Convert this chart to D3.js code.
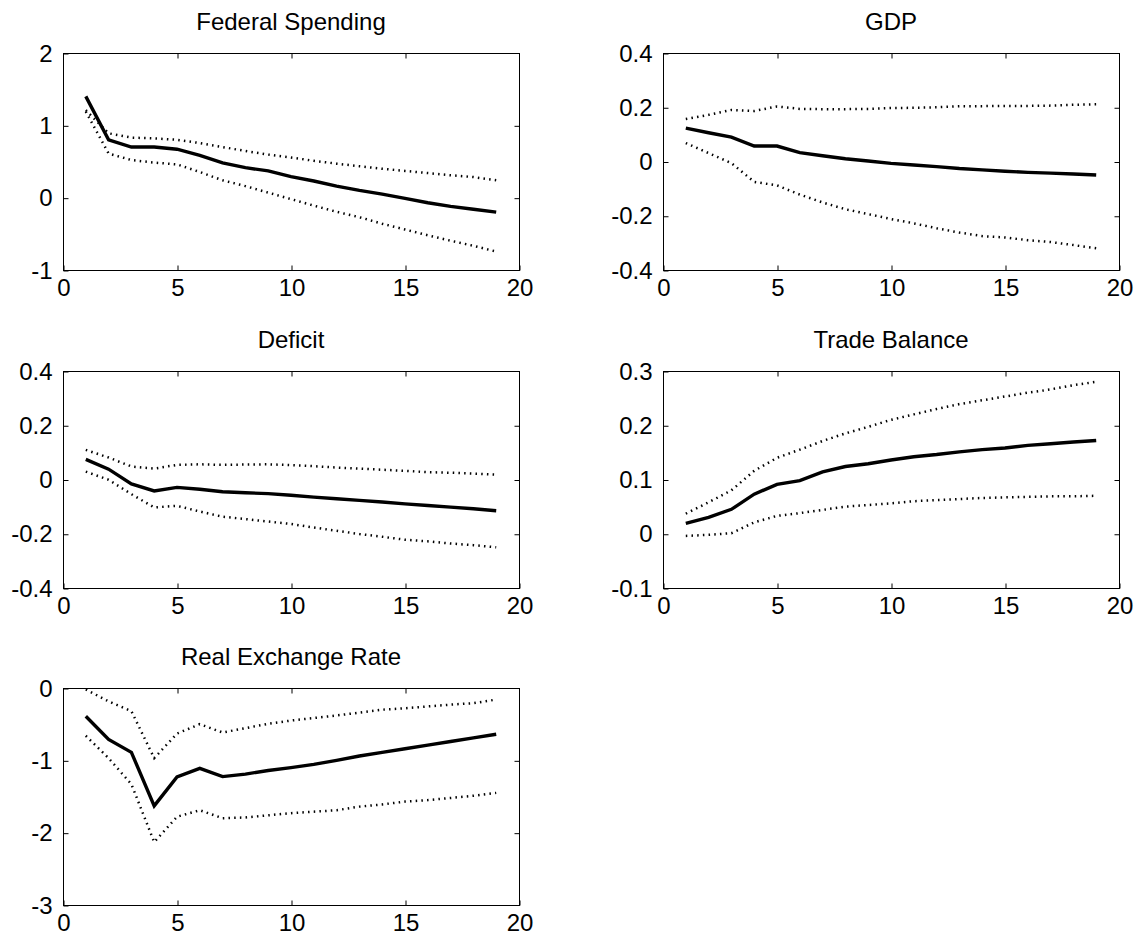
<!DOCTYPE html>
<html>
<head>
<meta charset="utf-8">
<script src="https://cdn.jsdelivr.net/npm/d3@7"></script>
<style>
  html, body { margin: 0; padding: 0; background: #fff; }
  svg { display: block; }
  text { font-family: "Liberation Sans", Arial, Helvetica, sans-serif; fill: #000; }
</style>
</head>
<body>
<svg id="chart" width="1138" height="939"></svg>
<script>
// ---------- data ----------
const periods = [1,2,3,4,5,6,7,8,9,10,11,12,13,14,15,16,17,18,19];

const titles = ["Federal Spending", "GDP", "Deficit", "Trade Balance", "Real Exchange Rate"];

const xTicks = [0, 5, 10, 15, 20];
const xTickLabels = ["0", "5", "10", "15", "20"];

// Federal Spending
const fedMean  = [1.40,0.80,0.70,0.70,0.67,0.585,0.48,0.415,0.37,0.29,0.23,0.16,0.10,0.05,-0.01,-0.07,-0.12,-0.16,-0.20];
const fedUpper = [1.21,0.89,0.83,0.82,0.80,0.755,0.70,0.645,0.595,0.555,0.51,0.47,0.435,0.40,0.37,0.34,0.31,0.285,0.24];
const fedLower = [1.19,0.61,0.52,0.485,0.46,0.355,0.24,0.16,0.07,-0.02,-0.11,-0.195,-0.27,-0.36,-0.44,-0.52,-0.595,-0.665,-0.745];
const fedYTicks = [-1, 0, 1, 2];
const fedYLabels = ["-1", "0", "1", "2"];

// GDP
const gdpMean  = [0.123,0.106,0.09,0.057,0.057,0.0325,0.021,0.010,0.002,-0.007,-0.013,-0.019,-0.026,-0.031,-0.036,-0.040,-0.043,-0.046,-0.05];
const gdpUpper = [0.157,0.172,0.19,0.186,0.203,0.194,0.193,0.193,0.194,0.197,0.198,0.20,0.204,0.204,0.205,0.205,0.206,0.209,0.211];
const gdpLower = [0.068,0.031,-0.006,-0.075,-0.088,-0.122,-0.151,-0.176,-0.194,-0.212,-0.228,-0.246,-0.262,-0.275,-0.28,-0.29,-0.297,-0.308,-0.32];
const gdpYTicks = [-0.4, -0.2, 0, 0.2, 0.4];
const gdpYLabels = ["-0.4", "-0.2", "0", "0.2", "0.4"];

// Deficit
const defMean  = [0.074,0.038,-0.016,-0.042,-0.029,-0.036,-0.045,-0.049,-0.052,-0.058,-0.065,-0.071,-0.077,-0.083,-0.09,-0.096,-0.102,-0.108,-0.115];
const defUpper = [0.109,0.081,0.048,0.04,0.054,0.056,0.054,0.055,0.056,0.053,0.049,0.044,0.04,0.036,0.032,0.027,0.025,0.022,0.018];
const defLower = [0.029,-0.001,-0.054,-0.103,-0.097,-0.118,-0.137,-0.146,-0.155,-0.164,-0.177,-0.189,-0.201,-0.211,-0.222,-0.228,-0.236,-0.242,-0.25];
const defYTicks = [-0.4, -0.2, 0, 0.2, 0.4];
const defYLabels = ["-0.4", "-0.2", "0", "0.2", "0.4"];

// Trade Balance
const tbMean  = [0.019,0.030,0.045,0.073,0.091,0.098,0.114,0.124,0.129,0.136,0.142,0.146,0.151,0.155,0.158,0.163,0.166,0.169,0.172];
const tbUpper = [0.037,0.058,0.080,0.116,0.140,0.155,0.171,0.185,0.197,0.21,0.22,0.23,0.239,0.246,0.253,0.26,0.266,0.274,0.28];
const tbLower = [-0.004,-0.002,0.001,0.021,0.033,0.038,0.044,0.05,0.053,0.056,0.06,0.062,0.064,0.066,0.067,0.068,0.069,0.069,0.07];
const tbYTicks = [-0.1, 0, 0.1, 0.2, 0.3];
const tbYLabels = ["-0.1", "0", "0.1", "0.2", "0.3"];

// Real Exchange Rate
const rerMean  = [-0.39,-0.71,-0.89,-1.63,-1.23,-1.11,-1.225,-1.19,-1.14,-1.10,-1.055,-1.00,-0.94,-0.89,-0.84,-0.79,-0.74,-0.69,-0.64];
const rerUpper = [-0.02,-0.185,-0.32,-0.97,-0.63,-0.50,-0.615,-0.555,-0.495,-0.45,-0.415,-0.38,-0.34,-0.30,-0.28,-0.255,-0.23,-0.21,-0.16];
const rerLower = [-0.66,-0.97,-1.33,-2.13,-1.78,-1.69,-1.80,-1.79,-1.76,-1.73,-1.71,-1.69,-1.64,-1.61,-1.57,-1.55,-1.52,-1.49,-1.45];
const rerYTicks = [-3, -2, -1, 0];
const rerYLabels = ["-3", "-2", "-1", "0"];

// ---------- layout ----------
const colLeft = [63, 663];
const rowTop = [53, 371, 688];
const panelW = 456, panelH = 217;
const tickLen = 5;
const fontSize = 24;

const panels = [
  { title: titles[0], mean: fedMean, upper: fedUpper, lower: fedLower, yTicks: fedYTicks, yLabels: fedYLabels, col: 0, row: 0 },
  { title: titles[1], mean: gdpMean, upper: gdpUpper, lower: gdpLower, yTicks: gdpYTicks, yLabels: gdpYLabels, col: 1, row: 0 },
  { title: titles[2], mean: defMean, upper: defUpper, lower: defLower, yTicks: defYTicks, yLabels: defYLabels, col: 0, row: 1 },
  { title: titles[3], mean: tbMean,  upper: tbUpper,  lower: tbLower,  yTicks: tbYTicks,  yLabels: tbYLabels,  col: 1, row: 1 },
  { title: titles[4], mean: rerMean, upper: rerUpper, lower: rerLower, yTicks: rerYTicks, yLabels: rerYLabels, col: 0, row: 2 }
];

const svg = d3.select("#chart");

panels.forEach(p => {
  const g = svg.append("g")
    .attr("transform", `translate(${colLeft[p.col]},${rowTop[p.row]})`);

  const x = d3.scaleLinear().domain([0, 20]).range([0, panelW]);
  const y = d3.scaleLinear()
    .domain([p.yTicks[0], p.yTicks[p.yTicks.length - 1]])
    .range([panelH, 0]);

  // frame
  g.append("rect")
    .attr("x", 0.5).attr("y", 0.5)
    .attr("width", panelW).attr("height", panelH)
    .attr("fill", "none").attr("stroke", "#000").attr("stroke-width", 1);

  // x ticks (bottom + top, inward) and labels
  const xAxisB = d3.axisBottom(x).tickValues(xTicks)
    .tickFormat((d, i) => xTickLabels[i]).tickSizeInner(-tickLen).tickSizeOuter(0).tickPadding(tickLen + 3);
  const gxb = g.append("g").attr("transform", `translate(0.5,${panelH + 0.5})`).call(xAxisB);
  gxb.select(".domain").remove();
  gxb.selectAll(".tick line").attr("stroke", "#000");
  gxb.selectAll(".tick text").attr("font-size", fontSize).attr("font-family", null)
    .attr("y", 8);

  const xAxisT = d3.axisTop(x).tickValues(xTicks.slice(1, -1)).tickFormat("").tickSizeInner(-tickLen).tickSizeOuter(0);
  const gxt = g.append("g").attr("transform", `translate(0.5,0.5)`).call(xAxisT);
  gxt.select(".domain").remove();
  gxt.selectAll(".tick line").attr("stroke", "#000");

  // y ticks (left + right, inward) and labels
  const yAxisL = d3.axisLeft(y).tickValues(p.yTicks)
    .tickFormat((d, i) => p.yLabels[i]).tickSizeInner(-tickLen).tickSizeOuter(0).tickPadding(tickLen + 6);
  const gyl = g.append("g").attr("transform", `translate(0.5,0.5)`).call(yAxisL);
  gyl.select(".domain").remove();
  gyl.selectAll(".tick line").attr("stroke", "#000");
  gyl.selectAll(".tick text").attr("font-size", fontSize).attr("font-family", null);

  const yAxisR = d3.axisRight(y).tickValues(p.yTicks.slice(1, -1)).tickFormat("").tickSizeInner(-tickLen).tickSizeOuter(0);
  const gyr = g.append("g").attr("transform", `translate(${panelW + 0.5},0.5)`).call(yAxisR);
  gyr.select(".domain").remove();
  gyr.selectAll(".tick line").attr("stroke", "#000");

  // lines
  const line = d3.line().x((d, i) => x(periods[i])).y(d => y(d));

  g.append("path").datum(p.upper).attr("d", line)
    .attr("fill", "none").attr("stroke", "#000").attr("stroke-width", 2.5)
    .attr("stroke-dasharray", "1.5,4.2");
  g.append("path").datum(p.lower).attr("d", line)
    .attr("fill", "none").attr("stroke", "#000").attr("stroke-width", 2.5)
    .attr("stroke-dasharray", "1.5,4.2");
  g.append("path").datum(p.mean).attr("d", line)
    .attr("fill", "none").attr("stroke", "#000").attr("stroke-width", 3.4)
    .attr("stroke-linejoin", "miter");

  // title
  g.append("text")
    .attr("x", panelW / 2).attr("y", -23)
    .attr("text-anchor", "middle")
    .attr("font-size", fontSize)
    .text(p.title);
});
</script>
</body>
</html>
